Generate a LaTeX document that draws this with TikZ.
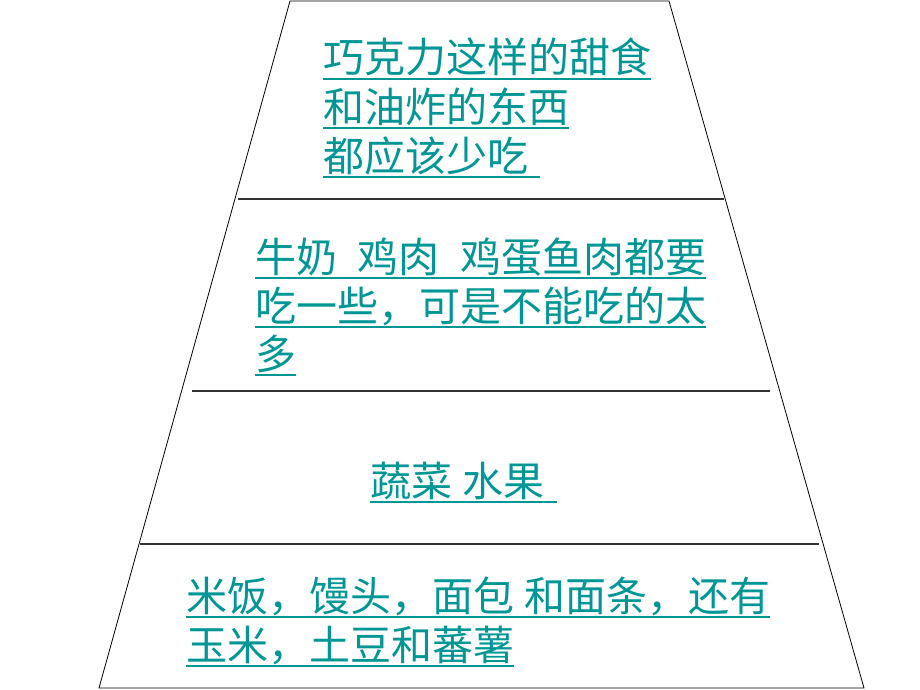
\documentclass[tikz,border=0pt]{standalone}
\usepackage{fontspec}
\newfontfamily\cjk{Noto Sans CJK SC}
\definecolor{tealtxt}{RGB}{0,150,150}
\begin{document}
\begin{tikzpicture}[x=1pt,y=-1pt,
  txt/.style={anchor=base west, inner sep=0pt, outer sep=0pt, text=tealtxt,
              font=\cjk\fontsize{41}{49}\selectfont},
  ul/.style={draw=tealtxt, line width=2pt},
  tier/.style={draw=black!80, line width=1.5pt},
  frame/.style={draw=black, line width=0.8pt}]
\useasboundingbox (0,0) rectangle (920,690);
% pyramid outline
\draw[frame] (290,1) -- (669,1) -- (864,688) -- (99,688) -- cycle;
% tier separators
\draw[tier] (238,199) -- (724,199);
\draw[tier] (192,391) -- (770,391);
\draw[tier] (140,544) -- (819,544);
% texts
\node[txt] (a1) at (323,73)  {巧克力这样的甜食};
\node[txt] (a2) at (323,122) {和油炸的东西};
\node[txt] (a3) at (323,171) {都应该少吃\hspace*{0.3em}};
\node[txt] (b1) at (255,272) {牛奶\hspace*{0.5em}鸡肉\hspace*{0.5em}鸡蛋鱼肉都要};
\node[txt] (b2) at (255,321) {吃一些，可是不能吃的太};
\node[txt] (b3) at (255,369) {多};
\node[txt] (c1) at (370,496) {蔬菜\hspace*{0.25em}水果\hspace*{0.3em}};
\node[txt] (d1) at (186,611) {米饭，馒头，面包\hspace*{0.25em}和面条，还有};
\node[txt] (d2) at (186,660) {玉米，土豆和蕃薯};
% underlines
\foreach \n in {a1,a2,a3,b1,b2,b3,c1,d1,d2}
  \draw[ul] ([yshift=-6pt]\n.base west) -- ([yshift=-6pt]\n.base east);
\end{tikzpicture}
\end{document}
